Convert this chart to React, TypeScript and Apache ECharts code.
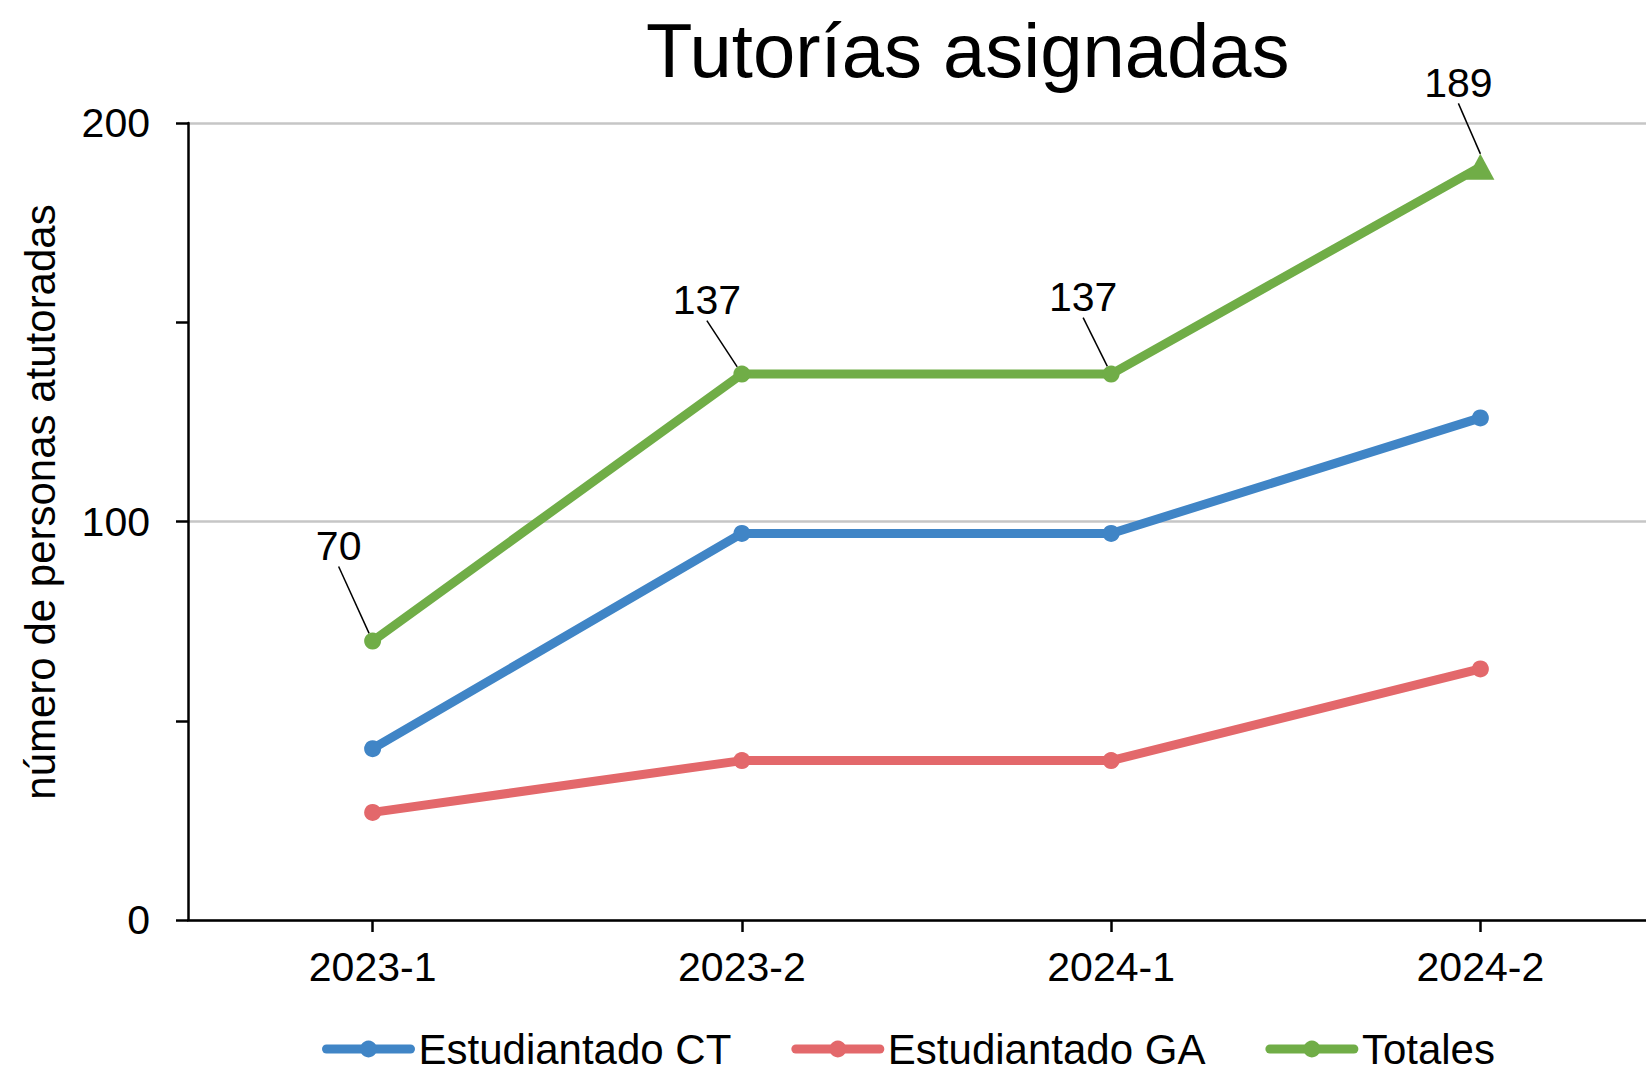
import React, { useEffect, useRef } from "react";
import * as echarts from "echarts";

// ---- data ----
const categories = ["2023-1", "2023-2", "2024-1", "2024-2"];
const ctValues = [43, 97, 97, 126];
const gaValues = [27, 40, 40, 63];
const totalValues = [70, 137, 137, 189];
const yTickValues = [0, 100, 200];
const seriesNames = ["Estudiantado CT", "Estudiantado GA", "Totales"];
const titleText = "Tutorías asignadas";
const yAxisTitle = "número de personas atutoradas";

// ---- styles / layout ----
const colors = ["#4085C6", "#E3686B", "#70AD47"];
const labelOffsets: number[][] = [
  [-34, -95],
  [-35, -74],
  [-28, -77],
  [-22, -84],
];
const FONT = "'Liberation Sans', Arial, Helvetica, sans-serif";

export default function App() {
  const ref = useRef<HTMLDivElement>(null);

  useEffect(() => {
    const chart = echarts.init(ref.current as HTMLDivElement, null, { renderer: "svg" });
    const lineW = 9;
    const symSize = 17;

    const makeSeries = (name: string, values: any[], color: string, extra: any = {}) => ({
      name,
      type: "line",
      data: values,
      symbol: "circle",
      symbolSize: symSize,
      showSymbol: true,
      lineStyle: { color, width: lineW, cap: "round", join: "round" },
      itemStyle: { color },
      ...extra,
    });

    const totalData = totalValues.map((v, i) =>
      i === totalValues.length - 1 ? { value: v, symbol: "triangle", symbolSize: [28, 26] } : v
    );

    const option: any = {
      animation: false,
      backgroundColor: "#ffffff",
      textStyle: { fontFamily: FONT },
      title: {
        text: titleText,
        left: 646,
        top: 12,
        padding: 0,
        textStyle: { fontFamily: FONT, fontSize: 76, fontWeight: "normal", color: "#000" },
      },
      legend: {
        data: seriesNames,
        left: 322,
        top: 1028,
        padding: 0,
        itemWidth: 84,
        itemHeight: 21,
        itemGap: 60,
        lineStyle: { width: 9 },
        textStyle: { fontFamily: FONT, fontSize: 42, lineHeight: 40, color: "#000", padding: [0, 0, 0, 3] },
      },
      grid: { left: 188, top: 123, width: 1477, height: 797, outerBoundsMode: "none", containLabel: false },
      xAxis: {
        type: "category",
        data: categories,
        boundaryGap: true,
        axisLine: { show: true, lineStyle: { color: "#000", width: 2.5 } },
        axisTick: { show: true, alignWithLabel: true, length: 12, lineStyle: { color: "#000", width: 2.5 } },
        axisLabel: { fontFamily: FONT, fontSize: 41, color: "#000", margin: 26 },
        splitLine: { show: false },
      },
      yAxis: {
        type: "value",
        min: yTickValues[0],
        max: yTickValues[yTickValues.length - 1],
        interval: yTickValues[1] - yTickValues[0],
        axisLine: { show: true, lineStyle: { color: "#000", width: 2.5 } },
        axisTick: { show: true, length: 12, lineStyle: { color: "#000", width: 2.5 } },
        minorTick: { show: true, splitNumber: 2, length: 12, lineStyle: { color: "#000", width: 2.5 } },
        axisLabel: { fontFamily: FONT, fontSize: 41, color: "#000", margin: 38 },
        splitLine: { show: true, lineStyle: { color: "#C6C6C6", width: 2.5 } },
      },
      graphic: [
        {
          type: "text",
          x: 40,
          y: 502,
          rotation: Math.PI / 2,
          style: {
            text: yAxisTitle,
            fontFamily: FONT,
            fontSize: 42,
            fill: "#000",
            align: "center",
            verticalAlign: "middle",
          },
        },
      ],
      series: [
        makeSeries(seriesNames[0], ctValues, colors[0], { z: 2 }),
        makeSeries(seriesNames[1], gaValues, colors[1], { z: 3 }),
        makeSeries(seriesNames[2], totalData, colors[2], {
          z: 4,
          label: {
            show: true,
            fontFamily: FONT,
            fontSize: 41,
            color: "#000",
            padding: [0, 0, 24, 0],
          },
          labelLine: { show: true, length2: 0, lineStyle: { color: "#000", width: 1.5 } },
          labelLayout: (params: any) => {
            const off = labelOffsets[params.dataIndex] || [0, -60];
            const r = params.rect;
            return {
              x: r.x + r.width / 2 + off[0],
              y: r.y + r.height / 2 + off[1],
              align: "center",
              verticalAlign: "middle",
            };
          },
        }),
      ],
    };

    chart.setOption(option);
    return () => chart.dispose();
  }, []);

  return (
    <div
      ref={ref}
      style={{ position: "absolute", left: 0, top: 0, width: 1646, height: 1074, background: "#fff" }}
    />
  );
}
